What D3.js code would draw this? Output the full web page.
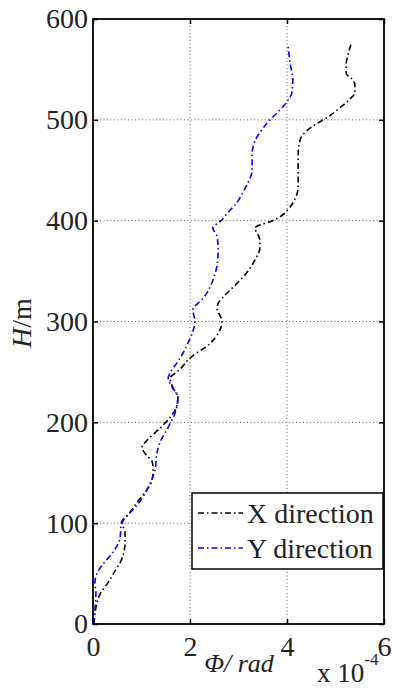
<!DOCTYPE html>
<html>
<head>
  <meta charset="utf-8">
  <title>Rotation angle vs height</title>
  <script src="https://cdn.jsdelivr.net/npm/d3@7/dist/d3.min.js"></script>
  <style>
    body { margin: 0; background: #fff; }
  </style>
</head>
<body>
<script>
  // data (phi in units of 1e-4 rad, H in m)
  const xDirH = [0, 11, 24, 31, 41, 54, 63, 81, 91, 100, 110, 120, 133, 143, 153, 161, 167, 175, 183, 194,
    205, 215, 225, 234, 244, 250, 255, 262, 269, 274, 284, 292, 300, 313, 318, 326, 336, 346, 353, 361,
    373, 381, 393, 395, 399, 404, 411, 421, 434, 450, 465, 480, 490, 497, 503, 512, 520, 527, 535, 541,
    546, 555, 565, 575];
  const xDirPhi = [0.00, 0.04, 0.10, 0.16, 0.31, 0.47, 0.58, 0.66, 0.66, 0.60, 0.75, 0.90, 1.11, 1.22, 1.24, 1.22, 1.11, 1.01, 1.13, 1.38,
    1.59, 1.72, 1.75, 1.65, 1.59, 1.73, 1.84, 1.96, 2.14, 2.31, 2.52, 2.62, 2.66, 2.56, 2.58, 2.72, 2.93, 3.13, 3.24, 3.34,
    3.44, 3.44, 3.34, 3.40, 3.65, 3.86, 4.02, 4.16, 4.23, 4.23, 4.23, 4.27, 4.43, 4.64, 4.85, 5.09, 5.28, 5.40, 5.40, 5.33,
    5.22, 5.22, 5.26, 5.32];

  const yDirH = [0, 14, 31, 41, 52, 62, 71, 86, 100, 110, 118, 126, 140, 153, 170, 180, 195, 209, 225, 235,
    244, 249, 259, 269, 279, 290, 300, 312, 318, 323, 334, 348, 356, 371, 384, 393, 399, 408, 418, 428,
    438, 450, 467, 473, 483, 492, 502, 510, 518, 527, 540, 557, 575];
  const yDirPhi = [0.02, 0.04, 0.06, 0.04, 0.10, 0.25, 0.41, 0.56, 0.58, 0.76, 0.91, 1.03, 1.18, 1.28, 1.32, 1.38, 1.55, 1.69, 1.75, 1.63,
    1.55, 1.59, 1.73, 1.86, 1.96, 2.06, 2.10, 2.06, 2.16, 2.27, 2.41, 2.52, 2.56, 2.58, 2.56, 2.47, 2.62, 2.78, 2.97, 3.09,
    3.20, 3.28, 3.28, 3.30, 3.38, 3.51, 3.69, 3.86, 4.00, 4.10, 4.12, 4.06, 4.02];

  const xTicks = [0, 2, 4, 6];
  const yTicks = [0, 100, 200, 300, 400, 500, 600];
  const seriesNames = ["X direction", "Y direction"];
  const seriesColors = ["#000000", "#0000ff"];

  const serif = "'Liberation Serif', 'DejaVu Serif', serif";

  const W = 393, Hgt = 695;
  const margin = { top: 19, right: 9, bottom: 71, left: 93 };
  const w = W - margin.left - margin.right;
  const h = Hgt - margin.top - margin.bottom;

  const svg = d3.select("body").append("svg")
    .attr("width", W)
    .attr("height", Hgt)
    .style("font-family", serif);

  const g = svg.append("g")
    .attr("transform", "translate(" + margin.left + "," + margin.top + ")");

  const xScale = d3.scaleLinear().domain([0, 6]).range([0, w]);
  const yScale = d3.scaleLinear().domain([0, 600]).range([h, 0]);

  // dotted grid
  g.append("g").selectAll("line")
    .data(xTicks.slice(1, -1))
    .enter().append("line")
    .attr("x1", d => xScale(d)).attr("x2", d => xScale(d))
    .attr("y1", 0).attr("y2", h)
    .attr("stroke", "#666").attr("stroke-width", 1)
    .attr("stroke-dasharray", "1,2.5");
  g.append("g").selectAll("line")
    .data(yTicks.slice(1, -1))
    .enter().append("line")
    .attr("y1", d => yScale(d)).attr("y2", d => yScale(d))
    .attr("x1", 0).attr("x2", w)
    .attr("stroke", "#666").attr("stroke-width", 1)
    .attr("stroke-dasharray", "1,2.5");

  // curves
  const series = [
    d3.zip(xDirPhi, xDirH),
    d3.zip(yDirPhi, yDirH)
  ];
  const line = d3.line()
    .x(d => xScale(d[0]))
    .y(d => yScale(d[1]))
    .curve(d3.curveMonotoneY);

  series.forEach(function (s, i) {
    g.append("path")
      .datum(s)
      .attr("d", line)
      .attr("fill", "none")
      .attr("stroke", seriesColors[i])
      .attr("stroke-width", 1.6)
      .attr("stroke-dasharray", "6,3,1.5,3");
  });

  // axes (MATLAB style: ticks inward, box)
  const fontSize = 28;
  const xAxis = d3.axisBottom(xScale).tickValues(xTicks).tickSize(-5).tickPadding(12).tickFormat(d3.format("d"));
  const gx = g.append("g").attr("transform", "translate(0," + h + ")").call(xAxis);
  const yAxis = d3.axisLeft(yScale).tickValues(yTicks).tickSize(-5).tickPadding(5).tickFormat(d3.format("d"));
  const gy = g.append("g").call(yAxis);
  const xTop = d3.axisTop(xScale).tickValues(xTicks).tickSize(-5).tickFormat("");
  const gxt = g.append("g").call(xTop);
  const yRight = d3.axisRight(yScale).tickValues(yTicks).tickSize(-5).tickFormat("");
  const gyr = g.append("g").attr("transform", "translate(" + w + ",0)").call(yRight);

  [gx, gy, gxt, gyr].forEach(function (a) {
    a.attr("font-family", null).attr("font-size", null);
    a.select(".domain").remove();
    a.selectAll(".tick line").attr("stroke", "#000").attr("stroke-width", 1.5);
    a.selectAll(".tick text")
      .style("font-family", serif)
      .style("font-size", fontSize + "px")
      .attr("fill", "#222");
  });

  g.append("rect")
    .attr("x", 0).attr("y", 0)
    .attr("width", w).attr("height", h)
    .attr("fill", "none")
    .attr("stroke", "#000")
    .attr("stroke-width", 1.8);

  // y label
  const yl = svg.append("text")
    .attr("transform", "translate(31,323) rotate(-90)")
    .attr("text-anchor", "middle")
    .style("font-size", fontSize + "px")
    .attr("fill", "#222");
  yl.append("tspan").attr("font-style", "italic").text("H");
  yl.append("tspan").text("/m");

  // x label
  svg.append("text")
    .attr("x", 239).attr("y", 672)
    .attr("text-anchor", "middle")
    .style("font-size", "26px")
    .attr("font-style", "italic")
    .attr("fill", "#222")
    .text("Φ/ rad");

  // exponent
  const ex = svg.append("text")
    .attr("x", 317).attr("y", 682)
    .style("font-size", "27px")
    .attr("fill", "#222");
  ex.append("tspan").text("x 10");
  ex.append("tspan").attr("dy", -17).style("font-size", "17px").text("-4");

  // legend
  const lg = svg.append("g");
  lg.append("rect")
    .attr("x", 192).attr("y", 493)
    .attr("width", 191).attr("height", 76)
    .attr("fill", "#fff")
    .attr("stroke", "#000")
    .attr("stroke-width", 1.5);
  seriesNames.forEach(function (name, i) {
    const yy = 513 + i * 35;
    lg.append("line")
      .attr("x1", 198).attr("x2", 243)
      .attr("y1", yy).attr("y2", yy)
      .attr("stroke", seriesColors[i])
      .attr("stroke-width", 1.5)
      .attr("stroke-dasharray", "6,3,1.5,3");
    lg.append("text")
      .attr("x", 247).attr("y", yy + 10)
      .style("font-size", fontSize + "px")
      .attr("fill", "#222")
      .text(name);
  });
</script>
</body>
</html>
